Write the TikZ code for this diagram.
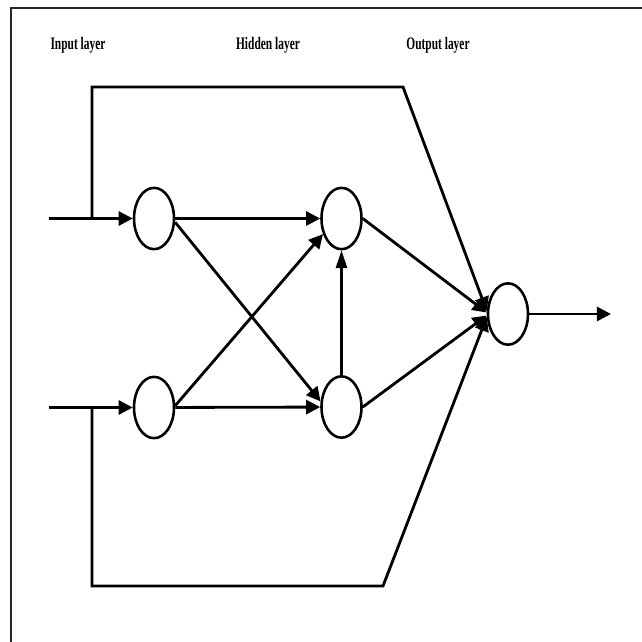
\documentclass[tikz,border=0pt]{standalone}
\usepackage{fontspec}
\newfontfamily\layerfont[FakeStretch=0.65, UprightFont={* Bold}]{Liberation Serif}
\usetikzlibrary{shapes.geometric, arrows.meta, calc}

\begin{document}
\begin{tikzpicture}[x=0.03cm, y=-0.03cm, line width=2.4pt,
    >={Triangle[length=12pt, width=12pt]},
    neuron/.style={ellipse, draw, line width=2.2pt, inner sep=0pt,
      minimum width=1.2cm, minimum height=1.84cm},
    layer/.style={font=\layerfont\fontsize{15}{17}\selectfont}]
  \useasboundingbox (0,0) rectangle (642,642);

  % frame
  \draw[black!85, line width=1.5pt] (642,8) -- (11,8) -- (11,642);

  % layer titles
  \node[layer] (inlabel) at (78,45) {Input layer};
  \node[layer] (hidlabel) at (268,45) {Hidden layer};
  \node[layer] (outlabel) at (438,45) {Output layer};

  % neurons
  \node[neuron] (in1) at (154,218.5) {};
  \node[neuron] (in2) at (154,407.5) {};
  \node[neuron] (hid1) at (341.5,218.5) {};
  \node[neuron] (hid2) at (341.5,407) {};
  \node[neuron] (out) at (508,314) {};

  % inputs, output and bypass corners
  \coordinate (x1) at (49,218.5);
  \coordinate (x2) at (49,407.5);
  \coordinate (y) at (611,314);
  \coordinate (top1) at (92,218.5);
  \coordinate (top2) at (92,87);
  \coordinate (top3) at (403,87);
  \coordinate (bot1) at (92,407.5);
  \coordinate (bot2) at (92,586);
  \coordinate (bot3) at (383,586);

  % input arrows
  \draw[->] (x1) -- (in1);
  \draw[->] (x2) -- (in2);

  % input layer -> hidden layer
  \draw[->] (in1) -- (hid1);
  \draw[->] (in1.-10) -- (hid2.165);
  \draw[->] (in2.5) -- (hid1.-140);
  \draw[->] (in2) -- (hid2);
  \draw[->, line width=1.9pt, >={Triangle[length=15pt, width=9.5pt]}] (hid2) -- (hid1);

  % hidden layer -> output layer
  \draw[->] (hid1.east) -- (out.176);
  \draw[->] (hid2.east) -- (out.184);

  % bypass lines
  \draw[->, line join=miter] (top1) -- (top2) -- (top3) -- (out.172);
  \draw[->, line join=miter] (bot1) -- (bot2) -- (bot3) -- (out.188);

  % output arrow
  \draw[->] (out) -- (y);
\end{tikzpicture}
\end{document}
